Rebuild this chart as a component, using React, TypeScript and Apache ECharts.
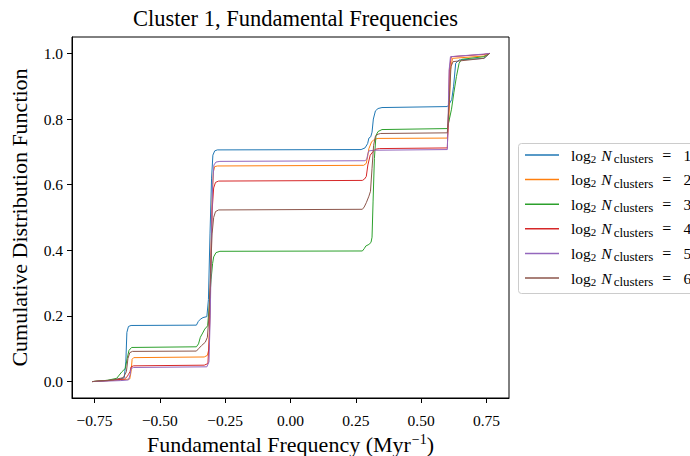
import React, { useEffect, useRef } from "react";
import * as echarts from "echarts";

// Tick values
const xTicks = [-0.75, -0.5, -0.25, 0, 0.25, 0.5, 0.75];
const yTicks = [0, 0.2, 0.4, 0.6, 0.8, 1.0];

// Series names (log2 N_clusters)
const seriesNames = ["1", "2", "3", "4", "5", "6"];
const seriesColors = ["#1f77b4", "#ff7f0e", "#2ca02c", "#d62728", "#9467bd", "#8c564b"];

// CDF curves: [frequency, cdf]
const cdf1: [number, number][] = [
  [-0.759, 0], [-0.7, 0.003], [-0.65, 0.008], [-0.636, 0.012], [-0.63, 0.06], [-0.626, 0.15],
  [-0.62, 0.168], [-0.61, 0.171], [-0.36, 0.172], [-0.353, 0.183], [-0.345, 0.19], [-0.335, 0.195],
  [-0.32, 0.198], [-0.314, 0.25], [-0.308, 0.45], [-0.302, 0.62], [-0.297, 0.69], [-0.29, 0.703],
  [-0.28, 0.706], [0.27, 0.707], [0.285, 0.712], [0.295, 0.725], [0.3, 0.742], [0.307, 0.746],
  [0.312, 0.76], [0.317, 0.8], [0.325, 0.825], [0.335, 0.832], [0.35, 0.835], [0.6, 0.838],
  [0.607, 0.845], [0.617, 0.86], [0.624, 0.9], [0.632, 0.97], [0.645, 0.98], [0.74, 0.985], [0.762, 1.0],
];
const cdf2: [number, number][] = [
  [-0.759, 0], [-0.65, 0.005], [-0.615, 0.008], [-0.61, 0.03], [-0.606, 0.068], [-0.6, 0.073],
  [-0.33, 0.075], [-0.318, 0.08], [-0.312, 0.1], [-0.306, 0.3], [-0.3, 0.55], [-0.295, 0.64],
  [-0.29, 0.655], [-0.28, 0.657], [0.28, 0.659], [0.29, 0.665], [0.296, 0.69], [0.3, 0.71],
  [0.31, 0.73], [0.32, 0.738], [0.335, 0.741], [0.6, 0.742], [0.606, 0.8], [0.612, 0.95],
  [0.62, 0.985], [0.74, 0.992], [0.762, 1.0],
];
const cdf3: [number, number][] = [
  [-0.759, 0], [-0.7, 0.004], [-0.665, 0.01], [-0.655, 0.02], [-0.645, 0.03], [-0.632, 0.04],
  [-0.625, 0.07], [-0.618, 0.095], [-0.608, 0.104], [-0.36, 0.106], [-0.352, 0.115], [-0.345, 0.135],
  [-0.336, 0.148], [-0.328, 0.16], [-0.317, 0.17], [-0.31, 0.24], [-0.304, 0.31], [-0.298, 0.36],
  [-0.294, 0.38], [-0.285, 0.393], [-0.27, 0.397], [0.275, 0.398], [0.282, 0.405], [0.288, 0.413],
  [0.3, 0.418], [0.308, 0.424], [0.312, 0.44], [0.316, 0.55], [0.321, 0.68], [0.327, 0.75],
  [0.335, 0.762], [0.35, 0.768], [0.6, 0.771], [0.608, 0.8], [0.616, 0.83], [0.625, 0.88],
  [0.635, 0.93], [0.645, 0.97], [0.655, 0.982], [0.74, 0.99], [0.762, 1.0],
];
const cdf4: [number, number][] = [
  [-0.759, 0], [-0.68, 0.004], [-0.635, 0.008], [-0.625, 0.015], [-0.62, 0.022], [-0.614, 0.03],
  [-0.61, 0.045], [-0.6, 0.048], [-0.33, 0.05], [-0.316, 0.055], [-0.31, 0.15], [-0.305, 0.35],
  [-0.3, 0.52], [-0.294, 0.59], [-0.287, 0.607], [-0.275, 0.611], [0.275, 0.613], [0.283, 0.617],
  [0.29, 0.625], [0.296, 0.66], [0.305, 0.69], [0.315, 0.7], [0.325, 0.708], [0.34, 0.71],
  [0.6, 0.712], [0.604, 0.8], [0.608, 0.95], [0.615, 0.99], [0.74, 0.997], [0.762, 1.0],
];
const cdf5: [number, number][] = [
  [-0.759, 0], [-0.65, 0.003], [-0.62, 0.005], [-0.614, 0.02], [-0.61, 0.04], [-0.6, 0.043],
  [-0.32, 0.045], [-0.312, 0.06], [-0.307, 0.2], [-0.302, 0.45], [-0.298, 0.6], [-0.293, 0.66],
  [-0.285, 0.669], [-0.27, 0.671], [0.285, 0.673], [0.292, 0.678], [0.296, 0.695], [0.3, 0.703],
  [0.32, 0.705], [0.6, 0.707], [0.603, 0.8], [0.607, 0.95], [0.612, 0.99], [0.74, 0.998], [0.762, 1.0],
];
const cdf6: [number, number][] = [
  [-0.759, 0], [-0.68, 0.005], [-0.64, 0.012], [-0.628, 0.03], [-0.622, 0.07], [-0.615, 0.088],
  [-0.605, 0.092], [-0.36, 0.093], [-0.352, 0.1], [-0.34, 0.11], [-0.326, 0.12], [-0.318, 0.135],
  [-0.312, 0.2], [-0.306, 0.33], [-0.3, 0.45], [-0.294, 0.5], [-0.287, 0.518], [-0.275, 0.523],
  [0.275, 0.525], [0.282, 0.532], [0.29, 0.545], [0.3, 0.565], [0.306, 0.58], [0.312, 0.65],
  [0.318, 0.72], [0.325, 0.748], [0.335, 0.754], [0.345, 0.756], [0.6, 0.758], [0.607, 0.85],
  [0.614, 0.96], [0.622, 0.975], [0.74, 0.985], [0.762, 1.0],
];
const curves = [cdf1, cdf2, cdf3, cdf4, cdf5, cdf6];

const FONT = "Liberation Serif";

const fmtX = (v: number) => (v < 0 ? "\u2212" : "") + Math.abs(v).toFixed(2);
const fmtY = (v: number) => (v < 0 ? "\u2212" : "") + Math.abs(v).toFixed(1);

export default function App() {
  const ref = useRef<HTMLDivElement>(null);
  useEffect(() => {
    if (!ref.current) return;
    const chart = echarts.init(ref.current, undefined, { renderer: "svg" });
    const base = { fontFamily: FONT, color: "#000" };
    chart.setOption({
      animation: false,
      backgroundColor: "#fff",
      title: {
        text: "Cluster 1, Fundamental Frequencies",
        left: 290.5,
        textAlign: "center",
        top: 2,
        textStyle: { ...base, fontSize: 22.5, fontWeight: "normal" },
      },
      grid: {
        left: 72,
        right: 181,
        top: 37,
        bottom: 58,
        outerBoundsMode: "none",
        containLabel: false,
        show: true,
        borderColor: "#000",
        borderWidth: 1,
        backgroundColor: "transparent",
      },
      graphic: [
        {
          type: "rect",
          z: 0,
          silent: true,
          shape: { x: 518.5, y: 143.5, width: 200, height: 150, r: 3 },
          style: { fill: "#fff", stroke: "#cccccc", lineWidth: 1 },
        },
      ],
      legend: {
        orient: "vertical",
        left: 518,
        top: 141,
        z: 10,
        padding: [4, 16, 4, 7],
        itemWidth: 34,
        itemHeight: 1.5,
        itemGap: 4.6,
        icon: "rect",
        borderWidth: 0,
        data: seriesNames,
        formatter: (name: string) => `{a|log}{s|2}{n|N}{c|clusters}{eq|=}{a|${name}}`,
        textStyle: {
          ...base,
          fontSize: 15,
          rich: {
            a: { ...base, fontSize: 15.5, lineHeight: 18 },
            n: { ...base, fontSize: 15.5, fontStyle: "italic", lineHeight: 18, padding: [0, 0, 0, 5] },
            s: { ...base, fontSize: 11, lineHeight: 18, padding: [7, 0, 0, 0] },
            c: { ...base, fontSize: 13, lineHeight: 18, padding: [7, 0, 0, 2] },
            eq: { ...base, fontSize: 16, lineHeight: 18, padding: [0, 12, 0, 9] },
          },
          padding: [0, 0, 0, 7],
        },
      },
      xAxis: {
        type: "value",
        min: -0.836,
        max: 0.836,
        name: "Fundamental Frequency (Myr{sup|\u22121})",
        nameLocation: "middle",
        nameGap: 30,
        nameTextStyle: {
          ...base,
          fontSize: 22,
          rich: { sup: { ...base, fontSize: 14, padding: [0, 0, 10, 1] } },
        },
        splitLine: { show: false },
        axisLine: { show: true, onZero: false, lineStyle: { color: "#000", width: 1 } },
        axisTick: { show: true, length: 5, customValues: xTicks, lineStyle: { color: "#000", width: 1 } },
        axisLabel: { ...base, fontSize: 15.5, margin: 14, customValues: xTicks, formatter: fmtX },
      },
      yAxis: {
        type: "value",
        min: -0.05,
        max: 1.05,
        name: "Cumulative Distribution Function",
        nameLocation: "middle",
        nameGap: 42,
        nameTextStyle: { ...base, fontSize: 22 },
        splitLine: { show: false },
        axisLine: { show: true, onZero: false, lineStyle: { color: "#000", width: 1 } },
        axisTick: { show: true, length: 5, customValues: yTicks, lineStyle: { color: "#000", width: 1 } },
        axisLabel: { ...base, fontSize: 15.5, margin: 9, customValues: yTicks, formatter: fmtY },
      },
      series: curves.map((data, i) => ({
        name: seriesNames[i],
        type: "line",
        data,
        symbol: "none",
        showSymbol: false,
        smooth: false,
        color: seriesColors[i],
        lineStyle: { width: 1, color: seriesColors[i] },
        emphasis: { disabled: true },
      })),
    });
    return () => chart.dispose();
  }, []);
  return <div ref={ref} style={{ width: 690, height: 456, position: "absolute", left: 0, top: 0 }} />;
}
